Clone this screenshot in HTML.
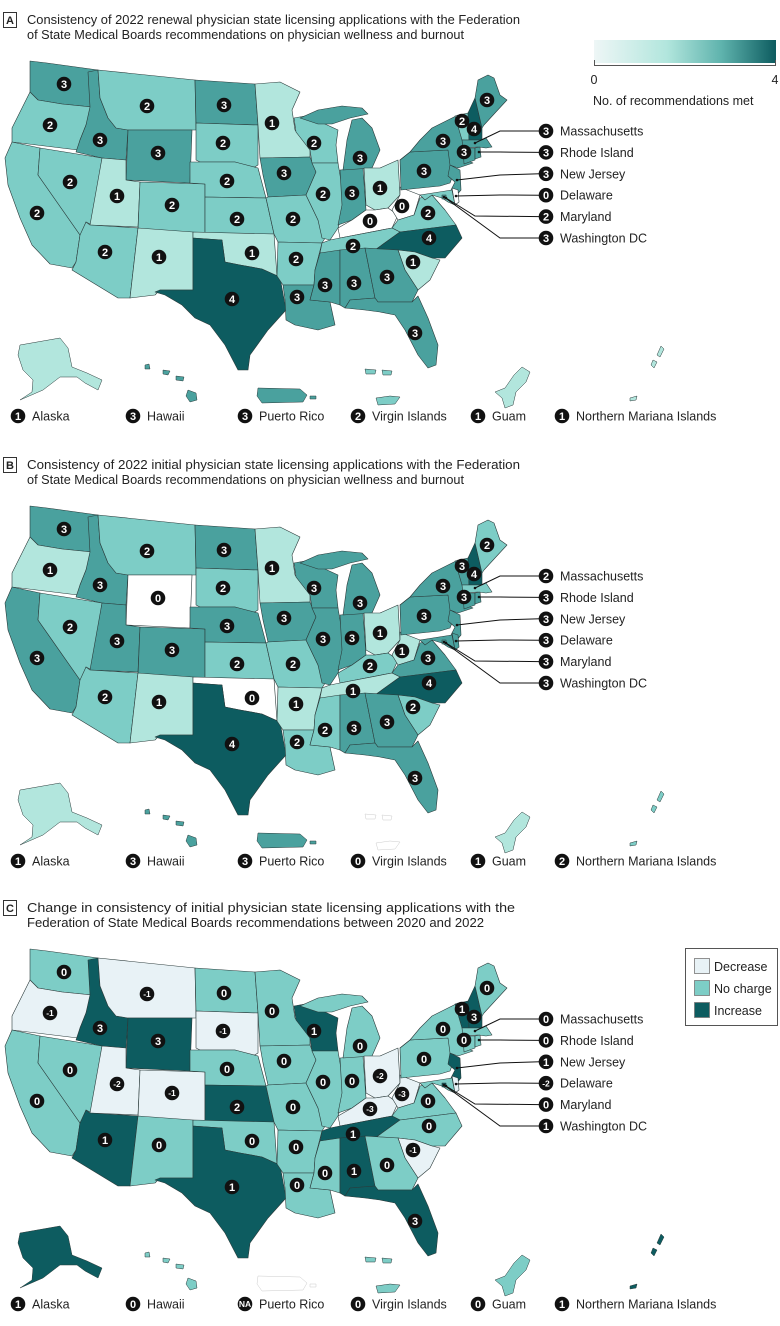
<!DOCTYPE html>
<html><head><meta charset="utf-8">
<style>
html,body{margin:0;padding:0;background:#fff;}
svg{display:block;font-family:"Liberation Sans",sans-serif;}
</style></head>
<body>
<svg id="fig" width="780" height="1326" viewBox="0 0 780 1326" xmlns="http://www.w3.org/2000/svg"></svg>
<script>
// ---- DATA ----
const stateCodes = ["WA","OR","CA","NV","ID","MT","WY","UT","CO","AZ","NM","ND","SD","NE","KS","OK","TX","MN","IA","MO","AR","LA","WI","IL","IN","MI","OH","KY","WV","VA","TN","NC","SC","MS","AL","GA","FL","PA","NJ","NY","VT","NH","ME","MA","CT","RI","MD","DE","DC"];
const valuesA = [3,2,2,2,3,2,3,1,2,2,1,3,2,2,2,1,4,1,3,2,2,3,2,2,3,3,1,0,0,2,2,4,1,3,3,3,3,3,3,3,2,4,3,3,3,3,2,0,3];
const valuesB = [3,1,3,2,3,2,0,3,3,2,1,3,2,3,2,0,4,1,3,2,1,2,3,3,3,3,1,2,1,3,1,4,2,2,3,3,3,3,3,3,3,4,2,2,3,3,3,3,3];
const valuesC = [0,-1,0,0,3,-1,3,-2,-1,1,0,0,-1,0,2,0,1,0,0,0,0,0,1,0,0,0,-2,-3,-3,0,1,0,-1,0,1,0,3,0,1,0,1,3,0,0,0,0,0,-2,1];
const calloutNames = ["Massachusetts","Rhode Island","New Jersey","Delaware","Maryland","Washington DC"];
const calloutCodes = ["MA","RI","NJ","DE","MD","DC"];
const territoryNames = ["Alaska","Hawaii","Puerto Rico","Virgin Islands","Guam","Northern Mariana Islands"];
const territoryA = [1,3,3,2,1,1];
const territoryB = [1,3,3,0,1,2];
const territoryC = ["1","0","NA","0","0","1"];
const panelTitles = [
 ["Consistency of 2022 renewal physician state licensing applications with the Federation","of State Medical Boards recommendations on physician wellness and burnout"],
 ["Consistency of 2022 initial physician state licensing applications with the Federation","of State Medical Boards recommendations on physician wellness and burnout"],
 ["Change in consistency of initial physician state licensing applications with the","Federation of State Medical Boards recommendations between 2020 and 2022"]
];
const panelLetters = ["A","B","C"];
const legendCLabels = ["Decrease","No charge","Increase"];
const gradientTicks = ["0","4"];

// ---- GEOMETRY ----
const geo = {
WA:{p:[[30,61],[47,63],[98,70],[92,107],[62,104],[38,100],[30,92]],l:[64,84]},
OR:{p:[[30,92],[38,100],[62,104],[92,107],[86,125],[80,140],[78,150],[12,142],[12,128],[22,108]],l:[50,125]},
CA:{p:[[12,142],[40,148],[38,175],[80,235],[76,262],[72,268],[50,264],[32,245],[20,218],[8,185],[5,158]],l:[37,213]},
NV:{p:[[40,148],[102,158],[92,225],[86,222],[82,233],[80,235],[38,175]],l:[70,182]},
ID:{p:[[88,72],[98,70],[100,98],[108,118],[116,128],[128,130],[126,160],[102,158],[76,152],[80,140],[86,125],[90,107]],l:[100,140]},
MT:{p:[[98,70],[195,80],[196,130],[128,130],[116,128],[108,118],[100,98]],l:[147,106]},
WY:{p:[[128,130],[192,130],[190,183],[126,180]],l:[158,153]},
UT:{p:[[102,158],[126,160],[126,180],[140,182],[138,227],[90,225]],l:[117,196]},
CO:{p:[[140,182],[205,184],[205,234],[138,230]],l:[172,205]},
AZ:{p:[[90,225],[138,228],[130,298],[118,298],[72,270],[76,262],[80,235],[86,222]],l:[105,252]},
NM:{p:[[138,228],[193,232],[193,290],[160,290],[155,295],[130,298]],l:[159,257]},
ND:{p:[[195,80],[255,84],[258,125],[196,123]],l:[224,105]},
SD:{p:[[196,123],[258,125],[258,165],[253,168],[235,162],[200,162],[196,160]],l:[223,143]},
NE:{p:[[190,162],[235,162],[258,168],[266,198],[205,197],[205,184],[190,183]],l:[227,181]},
KS:{p:[[205,197],[266,198],[274,234],[205,234]],l:[237,219]},
OK:{p:[[193,232],[274,234],[277,276],[262,269],[240,265],[225,262],[222,240],[193,238]],l:[252,253]},
TX:{p:[[193,238],[222,240],[225,262],[240,265],[262,269],[280,277],[286,310],[268,330],[250,355],[248,370],[238,370],[225,345],[210,325],[195,318],[182,305],[165,295],[155,292],[160,290],[193,290]],l:[232,299]},
MN:{p:[[255,84],[280,82],[300,92],[292,110],[295,130],[310,150],[310,157],[260,158],[258,125]],l:[272,123]},
IA:{p:[[260,158],[310,157],[316,172],[306,195],[268,197],[263,175]],l:[284,173]},
MO:{p:[[268,197],[306,195],[318,220],[327,235],[322,243],[278,242],[274,234],[266,198]],l:[293,219]},
AR:{p:[[278,242],[322,243],[315,270],[314,285],[283,285],[277,276]],l:[296,259]},
LA:{p:[[283,285],[314,285],[310,300],[330,302],[335,325],[318,330],[295,325],[286,320],[285,300]],l:[297,297]},
WI:{p:[[294,118],[305,116],[325,124],[338,130],[336,145],[338,163],[312,163],[310,150],[296,132]],l:[314,143]},
IL:{p:[[312,163],[338,163],[345,205],[338,228],[330,240],[322,238],[318,220],[306,195],[316,172]],l:[323,194]},
IN:{p:[[340,170],[363,168],[366,210],[352,220],[338,225],[342,205]],l:[352,193]},
MI:{p:[[343,170],[347,140],[352,120],[362,118],[372,128],[380,150],[372,168]],l:[360,158],x:[[300,118],[318,110],[342,106],[362,108],[368,114],[350,118],[332,124],[318,124]]},
OH:{p:[[364,168],[380,168],[398,160],[400,195],[388,208],[375,210],[366,205]],l:[380,188]},
KY:{p:[[338,228],[352,220],[366,210],[375,210],[388,208],[398,215],[392,228],[340,238]],l:[370,221]},
WV:{p:[[392,210],[400,195],[400,187],[407,190],[420,195],[414,215],[398,220]],l:[402,206]},
VA:{p:[[392,228],[398,220],[414,215],[420,198],[432,195],[445,210],[456,225],[400,232]],l:[428,213]},
TN:{p:[[322,243],[330,240],[340,238],[392,228],[400,232],[375,250],[320,253]],l:[353,246]},
NC:{p:[[375,250],[400,232],[456,225],[462,238],[445,258],[432,258],[415,252],[398,250]],l:[429,238]},
SC:{p:[[398,250],[415,252],[432,258],[440,260],[430,280],[418,290],[405,270]],l:[413,262]},
MS:{p:[[320,253],[340,250],[340,305],[330,302],[310,300],[314,285],[315,270]],l:[325,285]},
AL:{p:[[340,250],[365,248],[375,298],[350,300],[345,308],[340,305]],l:[354,283]},
GA:{p:[[365,248],[398,250],[405,270],[418,290],[412,302],[378,302],[375,298]],l:[387,277]},
FL:{p:[[345,308],[350,300],[375,298],[378,302],[412,302],[418,296],[428,318],[438,345],[436,365],[428,368],[418,355],[405,330],[395,315],[380,312],[365,310]],l:[415,333]},
PA:{p:[[400,160],[410,152],[448,150],[455,170],[450,183],[440,186],[401,190]],l:[424,171]},
NJ:{p:[[450,165],[460,170],[461,190],[455,197],[450,192],[455,182],[448,176]]},
NY:{p:[[400,160],[410,152],[420,140],[432,128],[452,118],[458,115],[463,140],[465,150],[466,160],[473,163],[458,168],[450,165],[448,150],[410,152]],l:[443,141]},
VT:{p:[[455,116],[468,113],[469,140],[462,140]],l:[462,121]},
NH:{p:[[468,113],[475,98],[482,128],[482,140],[469,140]],l:[474,129]},
ME:{p:[[475,98],[478,80],[488,75],[494,78],[500,95],[507,100],[495,113],[484,125],[482,128]],l:[487,100]},
MA:{p:[[462,140],[482,140],[486,138],[492,147],[486,148],[478,147],[463,148]]},
CT:{p:[[463,148],[475,148],[475,160],[464,164]],l:[464,152]},
RI:{p:[[475,148],[480,147],[481,157],[475,159]]},
MD:{p:[[420,195],[452,190],[455,205],[448,202],[442,198],[432,195],[425,200]]},
DE:{p:[[452,188],[458,190],[459,202],[455,205]]},
DC:{p:[[442,195],[446,195],[446,199],[442,199]]}
};
const calloutAnchor = {MA:[[475,143],[500,131]],RI:[[479,152],[500,152]],NJ:[[457,180],[500,175]],DE:[[456,196],[500,195]],MD:[[446,198],[475,216]],DC:[[444,197],[500,238]]};
const territoryShapes = [
 [[[20,345],[60,338],[68,348],[72,367],[87,373],[102,380],[98,390],[85,383],[77,377],[60,377],[43,390],[20,400],[32,392],[33,380],[23,370],[18,355]]],
 [[[145,365],[149,364],[150,369],[145,369]],[[163,370],[170,371],[168,375],[163,374]],[[176,376],[184,377],[183,381],[176,380]],[[188,390],[196,393],[197,400],[190,402],[186,396]]],
 [[[258,388],[300,389],[307,395],[303,402],[262,403],[257,396]],[[310,396],[316,396],[316,399],[310,399]]],
 [[[365,369],[376,370],[375,374],[366,374]],[[382,370],[392,371],[391,375],[383,375]],[[376,398],[390,396],[400,397],[395,404],[378,405]]],
 [[[522,367],[530,372],[526,382],[516,392],[513,405],[505,408],[502,398],[495,392],[505,388],[514,375]]],
 [[[661,346],[664,349],[660,357],[657,355]],[[653,360],[657,362],[654,368],[651,365]],[[630,398],[637,396],[636,400],[630,401]]]
];
const territoryLegendX = [18,133,245,358,478,562];

// ---- RENDER ----
const NS="http://www.w3.org/2000/svg";
const svg=document.getElementById('fig');
function mk(tag,attrs,parent){const e=document.createElementNS(NS,tag);for(const k in attrs)e.setAttribute(k,attrs[k]);(parent||svg).appendChild(e);return e;}
const scaleColors=["#ffffff","#b2e6dd","#7dcdc6","#4aa19e","#0d5c60"];
const cDec="#e8f2f6",cNo="#7dcdc6",cInc="#0d5c60";
function colorAB(v){return scaleColors[v];}
function colorC(v){if(v==="NA")return "#ffffff";v=+v;return v<0?cDec:(v>0?cInc:cNo);}
function pts(a){return a.map(p=>p.join(',')).join(' ');}

function badge(g,x,y,txt){
  const c=mk('circle',{cx:x,cy:y,r:7.3,fill:'#111'},g);
  
  
  const fs=String(txt).length>1?8.5:11;
  const t=mk('text',{x:x,y:y+fs*0.36,'text-anchor':'middle','font-size':fs,'font-weight':'bold',fill:'#fff'},g);
  t.textContent=txt;
  
  
}

function drawPanel(idx,offY,vals,terr,colorFn){
  const g=mk('g',{transform:'translate(0,'+offY+')'});
  
  
  const box=mk('rect',{x:3.5,y:12.5,width:13,height:15,fill:'#fff',stroke:'#333','stroke-width':1},g);
  
  
  const lt=mk('text',{x:10,y:24,'text-anchor':'middle','font-size':11,'font-weight':'bold',fill:'#222'},g);
  lt.textContent=panelLetters[idx];
  
  
  panelTitles[idx].forEach((line,i)=>{
    const t=mk('text',{x:27,y:24+i*15,'font-size':12.5,fill:'#222'},g);
    const w=idx===2?(i===0?488:457):(i===0?493:437);
    t.setAttribute('textLength',w);
    t.setAttribute('lengthAdjust','spacingAndGlyphs');
    t.textContent=line;
    
    
  });
  stateCodes.forEach((code,i)=>{
    const s=geo[code];
    const shapes=[s.p].concat(s.x?[s.x]:[]);
    shapes.forEach(sh=>{
      const p=mk('polygon',{points:pts(sh),fill:colorFn(vals[i]),stroke:'#2a3a3a','stroke-width':0.6,'stroke-linejoin':'round'},g);
      
      
    });
  });
  stateCodes.forEach((code,i)=>{
    const s=geo[code];
    if(s.l) badge(g,s.l[0],s.l[1],vals[i]);
  });
  calloutCodes.forEach((code,i)=>{
    const y=131+i*21.4;
    const a=calloutAnchor[code];
    const pl=mk('polyline',{points:pts([a[0],a[1],[540,y]]),fill:'none',stroke:'#111','stroke-width':1},g);
    
    
    mk('circle',{cx:a[0][0],cy:a[0][1],r:1.3,fill:'#111'},g);
    const v=vals[stateCodes.indexOf(code)];
    badge(g,546,y,v);
    const t=mk('text',{x:560,y:y+4.5,'font-size':12.5,fill:'#222'},g);
    t.textContent=calloutNames[i];
    
    
  });
  territoryShapes.forEach((shs,i)=>{
    shs.forEach(sh=>{
      const light=(terr[i]==="NA")||(colorFn===colorAB&&terr[i]===0);
      const p=mk('polygon',{points:pts(sh),fill:colorFn(terr[i]),stroke:light?'#ccc':'#2a3a3a','stroke-width':0.5},g);
      
      
    });
    badge(g,territoryLegendX[i],416,terr[i]);
    const t=mk('text',{x:territoryLegendX[i]+14,y:420.5,'font-size':12.5,fill:'#222'},g);
    t.textContent=territoryNames[i];
    
    
  });
  return g;
}

drawPanel(0,0,valuesA,territoryA,colorAB);
drawPanel(1,445,valuesB,territoryB,colorAB);
drawPanel(2,888,valuesC,territoryC,colorC);

const defs=mk('defs',{});
const lg=mk('linearGradient',{id:'grad',x1:0,x2:1,y1:0,y2:0},defs);
mk('stop',{offset:'0','stop-color':'#eef6f6'},lg);
mk('stop',{offset:'0.4','stop-color':'#b2e6dd'},lg);
mk('stop',{offset:'0.7','stop-color':'#5fb3ad'},lg);
mk('stop',{offset:'1','stop-color':'#0d5c60'},lg);
const gr=mk('rect',{x:594,y:40,width:182,height:23,fill:'url(#grad)'});


mk('path',{d:'M594.5,60 V65.5 H775.5 V60',fill:'none',stroke:'#555','stroke-width':1});
gradientTicks.forEach((tk,i)=>{
  const t=mk('text',{x:594+i*181,y:84,'font-size':12.5,'text-anchor':'middle',fill:'#222'});
  t.textContent=tk;
  
  
});
const gt=mk('text',{x:593,y:105,'font-size':12.5,fill:'#222'});
gt.textContent="No. of recommendations met";



const lgBox=mk('rect',{x:685.5,y:948.5,width:92,height:77,fill:'#fff',stroke:'#555','stroke-width':1});


const legCols=[cDec,cNo,cInc];
legendCLabels.forEach((lab,i)=>{
  const y=958+i*22;
  const r=mk('rect',{x:694.5,y:y+0.5,width:15,height:15,fill:legCols[i],stroke:'#777','stroke-width':0.8});
  
  
  const t=mk('text',{x:714,y:y+13,'font-size':12.5,fill:'#222'});
  t.textContent=lab;
  
  
});
</script>
</body></html>
